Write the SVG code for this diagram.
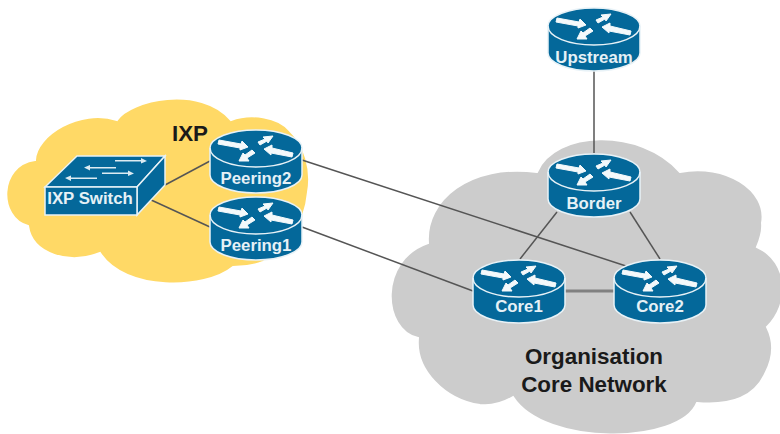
<svg xmlns="http://www.w3.org/2000/svg" width="780" height="434" viewBox="0 0 780 434">
<style>
text{font-family:"Liberation Sans",Arial,sans-serif;font-weight:700;text-anchor:middle}
.lbl{font-size:16.8px;fill:#e6f1f6}
.big{font-size:22.4px;fill:#1a1a1a}
.cloud{stroke:#fff;stroke-width:2}
.body{fill:#04689a;stroke:#e8f2f7;stroke-width:1.5}
.edge{fill:none;stroke:#e8f2f7;stroke-width:1.5}
.arr{fill:#f4f9fb;stroke:#f4f9fb;stroke-width:1;stroke-linejoin:round}
.swa{fill:#dcebf2}
.conn line{stroke:#555;stroke-width:1.5}
</style>
<defs>
<g id="router">
<path class="body" d="M-46 18C-46 8-25 0 0 0S46 8 46 18V45C46 55 25 63 0 63S-46 55-46 45Z"/>
<path class="edge" d="M-46 18C-46 29-25 37 0 37S46 29 46 18"/>
<path class="arr" d="M-37 10L-15 14L-14 11L-8 17L-16 20L-16 18L-38 14Z"/>
<path class="arr" d="M17 6L7 7L9 9L2 12L4 15L11 11L12 13Z"/>
<path class="arr" d="M8 19L16 15L16 18L37 23L36 27L15 23L15 25Z"/>
<path class="arr" d="M-17 31L-7 31L-9 28L-1 23L-4 20L-11 25L-13 23Z"/>
</g>
<path id="sw" class="swa" d="M0 0L26 0L26-2L32 1L26 3.500L26 1.500L0 1.500Z"/>
</defs>
<path id="ixp-cloud" class="cloud" fill="#ffd966" d="M35 160C36 135 80 108 117 120C130 100 200 84 231 120C250 113 278 116 290 131C305 145 312 170 308 192C305 225 285 252 263 262C252 266 242 267 233 267C205 290 125 292 100 253C70 265 32 255 28 226C-2 218 -2 165 35 160Z"/>
<path id="core-cloud" class="cloud" fill="#cccccc" d="M537 172C555 130 640 127 680 172C725 163 768 190 762 223C763 232 760 240 757 247C790 262 790 305 767 327C776 345 772 360 766 372C755 397 732 406 697 403C680 445 545 447 513 397C500 405 490 406 480 405C445 400 415 370 418 338C382 330 378 260 428 243C425 200 470 163 537 172Z"/>
<g id="connectors" class="conn">
<line x1="594" y1="71" x2="594" y2="153"/>
<line x1="165" y1="185" x2="210" y2="161"/>
<line x1="149" y1="199" x2="210" y2="227"/>
<line x1="302" y1="160" x2="626" y2="266"/>
<line x1="302" y1="227" x2="473" y2="291"/>
<line x1="557" y1="212" x2="520" y2="259"/>
<line x1="630" y1="212" x2="660" y2="259"/>
<line x1="565" y1="291" x2="614" y2="291" style="stroke:#808080;stroke-width:3"/>
</g>
<g id="ixp-switch">
<path class="body" d="M45 187L77 156H165L137 187Z"/>
<path class="body" d="M137 187L165 156V185L137 215Z"/>
<path class="body" d="M45 187H137V215H45Z"/>
<use href="#sw" x="115" y="160"/>
<use href="#sw" transform="translate(116 168.500) rotate(180)"/>
<use href="#sw" x="102" y="172.500"/>
<use href="#sw" transform="translate(97 179) rotate(180)"/>
<text class="lbl" x="90" y="204">IXP Switch</text>
</g>
<g id="peering2"><use href="#router" x="256" y="130"/><text class="lbl" x="256" y="184">Peering2</text></g>
<g id="peering1"><use href="#router" x="256" y="197"/><text class="lbl" x="256" y="251">Peering1</text></g>
<g id="upstream"><use href="#router" x="594" y="8"/><text class="lbl" x="594" y="63">Upstream</text></g>
<g id="border"><use href="#router" x="594" y="154"/><text class="lbl" x="594" y="209">Border</text></g>
<g id="core1"><use href="#router" x="519" y="260"/><text class="lbl" x="519" y="312">Core1</text></g>
<g id="core2"><use href="#router" x="660" y="260"/><text class="lbl" x="660" y="312">Core2</text></g>
<text class="big" x="190" y="141">IXP</text>
<text class="big" x="594" y="364">Organisation</text>
<text class="big" x="594" y="392">Core Network</text>
</svg>
